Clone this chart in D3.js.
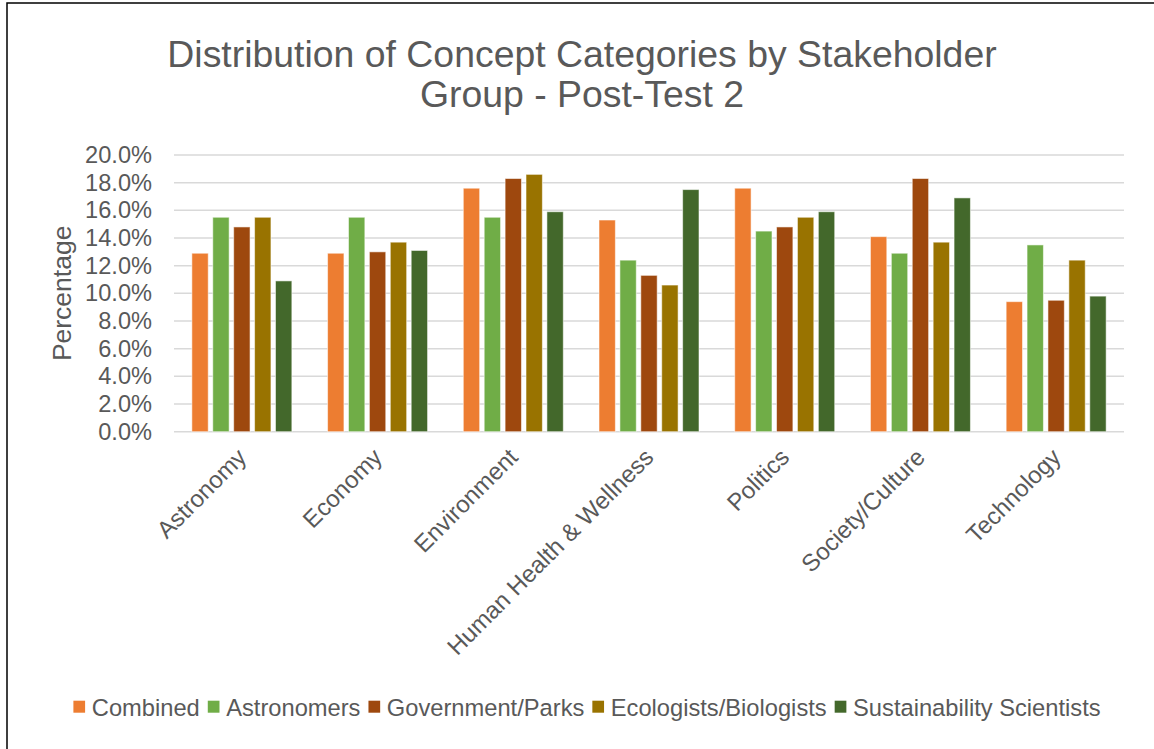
<!DOCTYPE html>
<html>
<head>
<meta charset="utf-8">
<script src="https://cdn.jsdelivr.net/npm/d3@7"></script>
<style>
  html, body { margin: 0; padding: 0; background: #fff; }
  svg { display: block; font-family: "Liberation Sans", Arial, sans-serif; }
</style>
</head>
<body>
<svg id="chart" width="1154" height="749"></svg>
<script>
// Concept category shares (%) for each stakeholder group
const categories = ["Astronomy", "Economy", "Environment", "Human Health & Wellness", "Politics", "Society/Culture", "Technology"];
const groups = ["Combined", "Astronomers", "Government/Parks", "Ecologists/Biologists", "Sustainability Scientists"];
const combined       = [12.9, 12.9, 17.6, 15.3, 17.6, 14.1, 9.4];
const astronomers    = [15.5, 15.5, 15.5, 12.4, 14.5, 12.9, 13.5];
const government     = [14.8, 13.0, 18.3, 11.3, 14.8, 18.3, 9.5];
const ecologists     = [15.5, 13.7, 18.6, 10.6, 15.5, 13.7, 12.4];
const sustainability = [10.9, 13.1, 15.9, 17.5, 15.9, 16.9, 9.8];
const yTicks = [0, 2, 4, 6, 8, 10, 12, 14, 16, 18, 20];
const colors = ["#ED7D31", "#70AD47", "#9E480E", "#997300", "#43682B"];

const seriesValues = [combined, astronomers, government, ecologists, sustainability];
const rows = categories.map((c, i) => ({
  category: c,
  values: groups.map((g, j) => ({ group: g, value: seriesValues[j][i] }))
}));

const svg = d3.select("#chart");
const textColor = "#595959";

// Chart frame
svg.append("rect")
  .attr("x", 7).attr("y", 3)
  .attr("width", 1160).attr("height", 760)
  .attr("fill", "none").attr("stroke", "#000").attr("stroke-width", 1.5);

const plot = { left: 174, right: 1124, top: 155, bottom: 431.7 };

const x0 = d3.scaleBand().domain(categories)
  .range([plot.left, plot.right]).paddingInner(0.2632).paddingOuter(0.1316);
const x1 = d3.scaleBand().domain(groups)
  .range([0, x0.bandwidth()]).paddingInner(0.217).paddingOuter(0);
const y = d3.scaleLinear().domain([0, 20]).range([plot.bottom, plot.top]);
const color = d3.scaleOrdinal().domain(groups).range(colors);

// Title
const title = svg.append("text")
  .attr("text-anchor", "middle").attr("fill", textColor)
  .style("font-size", "37.4px");
title.append("tspan").attr("x", 582).attr("y", 67).text("Distribution of Concept Categories by Stakeholder");
title.append("tspan").attr("x", 582).attr("y", 107).text("Group - Post-Test 2");

// Horizontal gridlines
svg.append("g")
  .selectAll("line").data(yTicks).join("line")
  .attr("x1", plot.left).attr("x2", plot.right)
  .attr("y1", d => y(d)).attr("y2", d => y(d))
  .attr("stroke", "#d9d9d9").attr("stroke-width", 1.5);

// Y axis labels
const yAxis = d3.axisLeft(y).tickValues(yTicks)
  .tickFormat(d => d.toFixed(1) + "%").tickSize(0).tickPadding(0);
const yg = svg.append("g").attr("transform", `translate(152,0)`).call(yAxis);
yg.select(".domain").remove();
yg.selectAll("text").attr("fill", textColor)
  .style("font-size", "23.6px").style("font-family", "Liberation Sans, Arial, sans-serif");

// Y axis title
svg.append("text")
  .attr("transform", `translate(71,${(plot.top + plot.bottom) / 2}) rotate(-90)`)
  .attr("text-anchor", "middle").attr("fill", textColor)
  .style("font-size", "26.5px").text("Percentage");

// Bars
const groupsG = svg.append("g").selectAll("g").data(rows).join("g")
  .attr("transform", d => `translate(${x0(d.category)},0)`);
groupsG.selectAll("rect").data(d => d.values).join("rect")
  .attr("x", d => x1(d.group))
  .attr("y", d => y(d.value))
  .attr("width", x1.bandwidth())
  .attr("height", d => y(0) - y(d.value))
  .attr("fill", d => color(d.group))
  .attr("stroke", "rgba(255,255,255,0.55)").attr("stroke-width", 1);

// Category labels
const xAxis = d3.axisBottom(x0).tickSize(0).tickPadding(0);
const xg = svg.append("g").attr("transform", `translate(0,${plot.bottom})`).call(xAxis);
xg.select(".domain").remove();
xg.selectAll("text")
  .attr("fill", textColor)
  .style("font-size", "24px").style("font-family", "Liberation Sans, Arial, sans-serif")
  .attr("text-anchor", "end")
  .attr("dy", null).attr("y", 0)
  .attr("transform", "translate(6,27) rotate(-45)");

// Legend
const legend = svg.append("g").attr("transform", "translate(0,716)");
const items = legend.selectAll("g").data(groups).join("g");
items.append("rect").attr("y", -15.3).attr("width", 11.7).attr("height", 12)
  .attr("fill", d => color(d));
items.append("text").attr("x", 18.4).attr("fill", textColor)
  .style("font-size", "23.7px").text(d => d);
items.each(function () {
  d3.select(this).attr("data-w", this.getBBox().width);
});
const widths = items.nodes().map(n => +n.getAttribute("data-w"));
const gap = 8;
const total = d3.sum(widths) + gap * (widths.length - 1);
let cursor = 587 - total / 2;
items.attr("transform", (d, i) => {
  const t = `translate(${cursor},0)`;
  cursor += widths[i] + gap;
  return t;
});
</script>
</body>
</html>
